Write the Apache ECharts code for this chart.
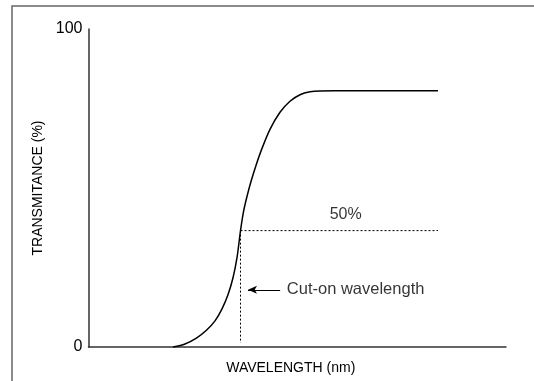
<!DOCTYPE html>
<html>
<head>
<meta charset="utf-8">
<script src="https://cdn.jsdelivr.net/npm/echarts@6/dist/echarts.min.js"></script>
<style>
  html, body { margin: 0; padding: 0; background: #fff; }
  #chart { width: 534px; height: 381px; }
</style>
</head>
<body>
<div id="chart"></div>
<script>
// wavelength in arbitrary units (0..100 across the axis), transmittance in %
var wavelength = [20.24, 23.11, 25.75, 28.31, 30.30, 31.98, 33.41, 34.61, 35.57, 36.41, 37.13, 37.96, 38.92, 40.12, 41.56, 43.47, 45.87, 48.26, 50.66, 53.05, 55.45, 62.63, 83.71];
var transmittance = [0, 0.95, 2.68, 5.36, 8.2, 11.99, 16.4, 21.77, 28.08, 36.6, 42.6, 47.32, 52.05, 57.1, 62.46, 68.45, 73.82, 77.29, 79.34, 80.28, 80.54, 80.57, 80.6];
var yTicks = [0, 100];

// cut-on guide lines
var cutOnX = 36.41;
var cutOnY = 36.6;
var guideEndX = 83.7;
var guideBottomY = 1.3;

// annotations
var halfLabel = { text: "50%", x: 61.6, y: 41.6 };
var cutOnLabel = { text: "Cut-on wavelength", x: 47.5, y: 18 };
var arrowFrom = [45.9, 18];
var arrowTo = [38.2, 18];

var font = "Liberation Sans, Arial, sans-serif";
var chart = echarts.init(document.getElementById("chart"));

var curve = [];
for (var i = 0; i < wavelength.length; i++) {
  curve.push([wavelength[i], transmittance[i]]);
}

chart.setOption({
  animation: false,
  graphic: [
    {
      type: "rect",
      shape: { x: 12, y: 6, width: 600, height: 500 },
      style: { fill: null, stroke: "#666", lineWidth: 1.5 },
      silent: true,
    },
  ],
  grid: { left: 88.5, right: 28, top: 29, bottom: 34 },
  xAxis: {
    type: "value",
    min: 0,
    max: 100,
    name: "WAVELENGTH (nm)",
    nameLocation: "middle",
    nameGap: 14,
    nameTextStyle: { fontFamily: font, fontSize: 14, color: "#000", padding: [0, 13, 0, 0] },
    axisLine: { show: true, lineStyle: { color: "#333", width: 1.5 } },
    axisTick: { show: false },
    axisLabel: { show: false },
    splitLine: { show: false },
  },
  yAxis: {
    type: "value",
    min: yTicks[0],
    max: yTicks[1],
    interval: 100,
    name: "TRANSMITANCE (%)",
    nameLocation: "middle",
    nameGap: 29,
    nameTextStyle: { fontFamily: font, fontSize: 14, color: "#000" },
    axisLine: { show: true, lineStyle: { color: "#333", width: 1.5 } },
    axisTick: { show: false },
    axisLabel: { fontFamily: font, fontSize: 16, color: "#000", margin: 6 },
    splitLine: { show: false },
  },
  series: [
    {
      type: "line",
      data: curve,
      smooth: 0.3,
      showSymbol: false,
      lineStyle: { color: "#000", width: 1.5 },
      markLine: {
        silent: true,
        symbol: ["none", "arrow"],
        symbolSize: [6, 9],
        label: { show: false },
        lineStyle: { color: "#000", width: 1, type: "solid" },
        data: [[{ coord: arrowFrom }, { coord: arrowTo }]],
      },
    },
    {
      type: "line",
      data: [[cutOnX, cutOnY], [guideEndX, cutOnY]],
      showSymbol: false,
      lineStyle: { color: "#000", width: 1, type: [2, 2] },
    },
    {
      type: "line",
      data: [[cutOnX, cutOnY], [cutOnX, guideBottomY]],
      showSymbol: false,
      lineStyle: { color: "#000", width: 1, type: [2, 2] },
    },
    {
      type: "scatter",
      symbolSize: 0,
      data: [[halfLabel.x, halfLabel.y]],
      label: {
        show: true,
        position: "inside",
        formatter: halfLabel.text,
        fontFamily: font,
        fontSize: 16,
        color: "#000",
      },
    },
    {
      type: "scatter",
      symbolSize: 0,
      data: [[cutOnLabel.x, cutOnLabel.y]],
      label: {
        show: true,
        position: "right",
        distance: 0,
        formatter: cutOnLabel.text,
        fontFamily: font,
        fontSize: 16.5,
        color: "#000",
      },
    },
  ],
});
</script>
</body>
</html>
